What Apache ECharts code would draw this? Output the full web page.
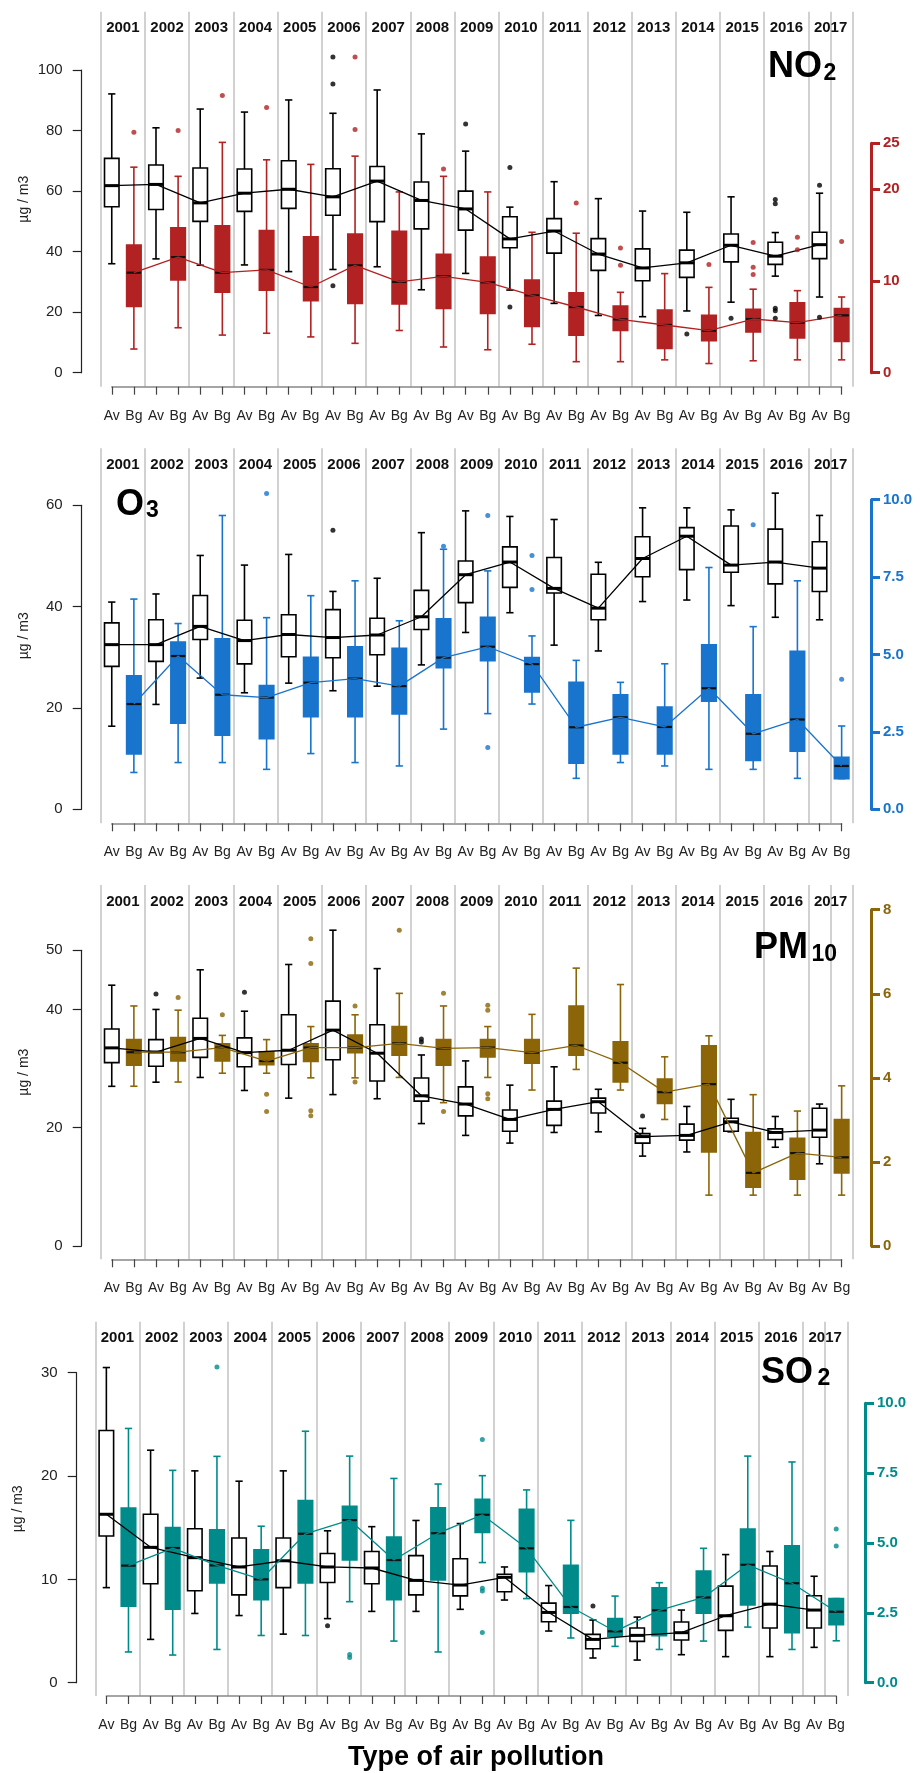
<!DOCTYPE html>
<html lang="en">
<head>
<meta charset="UTF-8">
<title>Air pollution boxplots</title>
<script src="https://cdn.jsdelivr.net/npm/echarts@6.0.0/dist/echarts.min.js"></script>
<style>
  * { margin: 0; padding: 0; }
  html, body { width: 921px; height: 1773px; background: #fff; overflow: hidden; }
  #chart { width: 921px; height: 1773px; }
</style>
</head>
<body>
<div id="chart"></div>
<script>
// ---- data: each row is [lower whisker, Q1, median, Q3, upper whisker], one per year ----
const years = ['2001','2002','2003','2004','2005','2006','2007','2008','2009',
               '2010','2011','2012','2013','2014','2015','2016','2017'];
const typeLabels = ['Av', 'Bg'];

const no2Av = [
  [36.0,54.8,61.8,70.8,92.1],[37.6,53.9,62.2,68.6,80.9],[35.5,50.0,56.1,67.6,87.1],
  [35.6,53.3,59.3,67.3,86.1],[33.4,54.3,60.6,70.0,90.1],[34.1,52.0,58.1,67.4,85.7],
  [35.0,49.9,63.3,68.1,93.4],[27.4,47.5,56.9,63.0,78.9],[32.8,47.1,54.1,60.0,73.2],
  [27.3,41.3,44.2,51.5,54.7],[22.9,39.5,46.8,50.9,63.1],[18.9,33.8,39.2,44.3,57.5],
  [18.5,30.4,34.6,40.9,53.4],[20.4,31.5,36.3,40.5,53.0],[23.3,36.6,42.1,45.8,58.1],
  [31.9,35.8,38.5,43.1,46.3],[25.0,37.7,42.3,46.4,59.3]
];
const no2AvOut = [[5,104.3],[5,95.4],[5,28.7],[8,82.2],[9,67.8],[9,21.7],[13,12.8],[14,18.0],
  [15,57.2],[15,55.8],[15,21.3],[15,20.5],[15,18.0],[16,61.9],[16,18.3]];
const no2Bg = [
  [2.58,7.23,10.9,13.9,22.4],[4.9,10.1,12.6,15.8,21.4],[4.1,8.76,10.9,16.0,25.1],
  [4.3,9.0,11.2,15.5,23.2],[3.9,7.85,9.34,14.8,22.7],[3.2,7.56,11.7,15.1,23.6],
  [4.6,7.5,9.9,15.4,19.7],[2.8,7.0,10.5,12.9,21.4],[2.5,6.47,9.85,12.6,19.7],
  [3.1,5.05,8.43,10.1,15.3],[1.2,4.1,7.16,8.7,15.2],[1.2,4.61,5.81,7.27,8.76],
  [1.4,2.65,5.2,6.83,10.8],[1.0,3.49,4.58,6.25,9.3],[1.3,4.43,5.85,6.9,9.1],
  [1.4,3.8,5.45,7.63,8.94],[1.4,3.4,6.25,7.0,8.25]
];
const no2BgOut = [[0,26.2],[1,26.4],[2,30.2],[3,28.9],[5,34.4],[5,26.5],[7,22.2],[10,18.5],
  [11,13.6],[11,11.7],[13,11.8],[14,14.2],[14,11.5],[14,10.7],[15,14.75],[15,13.4],[16,14.3]];

const o3Av = [
  [16.4,28.2,32.5,36.8,40.9],[20.7,29.2,32.5,37.4,42.5],[25.9,33.5,36.1,42.2,50.1],
  [23.0,28.7,33.3,37.3,48.2],[24.9,30.1,34.5,38.4,50.3],[23.4,29.9,33.9,39.4,43.0],
  [24.3,30.5,34.4,37.7,45.6],[28.5,35.5,38.0,43.2,54.6],[34.9,40.8,46.3,49.0,58.9],
  [38.8,43.8,48.8,51.8,57.8],[32.4,42.7,43.6,49.7,57.2],[31.25,37.4,39.7,46.4,48.75],
  [41.0,45.9,49.5,53.8,59.5],[41.3,47.3,53.9,55.6,59.5],[40.2,46.8,48.2,55.9,59.1],
  [37.9,44.5,48.8,55.3,62.4],[37.4,43.0,47.6,52.8,58.0]
];
const o3AvOut = [[5,55.1]];
const o3Bg = [
  [1.19,1.79,3.40,4.31,6.79],[1.51,2.78,4.95,5.4,6.0],[1.51,2.39,3.70,5.51,9.49],
  [1.29,2.28,3.61,4.0,6.19],[1.8,2.99,4.09,4.91,6.9],[1.51,2.99,4.22,5.25,7.38],
  [1.4,3.08,3.98,5.2,6.09],[2.59,4.57,4.9,6.15,8.40],[3.09,4.8,5.25,6.2,7.70],
  [3.4,3.79,4.69,4.9,5.6],[1.0,1.49,2.65,4.1,4.81],[1.51,1.79,2.97,3.7,4.1],
  [1.4,1.79,2.66,3.3,4.70],[1.29,3.49,3.91,5.31,7.81],[1.29,1.58,2.44,3.7,5.9],
  [1.0,1.88,2.9,5.1,7.38],[0.99,0.99,1.4,1.68,2.69]
];
const o3BgOut = [[3,10.2],[7,8.5],[8,9.49],[8,2.0],[9,8.2],[9,7.1],[14,9.19],[16,4.2]];

const pm10Av = [
  [27.0,31.0,33.5,36.7,44.1],[27.7,30.4,32.8,34.9,40.0],[28.5,31.9,35.1,38.5,46.7],
  [26.3,30.3,32.7,35.2,39.7],[25.0,30.7,33.1,39.1,47.6],[25.6,31.5,36.5,41.4,53.4],
  [24.9,27.9,32.6,37.4,46.9],[20.7,24.5,25.4,28.4,32.3],[18.7,22.0,24.0,26.9,31.3],
  [17.4,19.4,21.4,23.0,27.2],[19.2,20.4,23.1,24.5,30.3],[19.3,22.5,24.4,25.0,26.5],
  [15.2,17.4,18.5,19.0,19.9],[15.9,17.9,18.7,20.6,23.6],[19.3,19.4,21.0,21.6,24.8],
  [16.7,18.0,19.2,19.8,21.9],[13.9,18.4,19.6,23.3,24.0]
];
const pm10AvOut = [[1,42.6],[3,42.9],[7,35.0],[7,34.5],[12,22.0]];
const pm10Bg = [
  [3.80,4.30,4.61,4.91,5.71],[3.90,4.40,4.61,4.96,5.61],[4.11,4.40,4.72,4.81,5.01],
  [4.11,4.31,4.40,4.62,4.91],[4.0,4.39,4.72,4.81,5.22],[4.0,4.60,4.72,5.02,5.50],
  [4.01,4.54,4.82,5.22,6.01],[3.41,4.30,4.70,4.91,5.71],[4.01,4.50,4.72,4.91,5.22],
  [3.71,4.35,4.60,4.91,5.51],[4.20,4.54,4.77,5.71,6.61],[3.71,3.90,4.36,4.86,6.22],
  [3.01,3.39,3.66,3.97,4.50],[1.21,2.24,3.85,4.76,5.0],[1.21,1.40,1.74,2.70,3.60],
  [1.21,1.59,2.21,2.56,3.21],[1.21,1.74,2.11,3.01,3.81]
];
const pm10BgOut = [[1,5.91],[2,5.50],[3,3.61],[3,3.20],[4,7.31],[4,6.72],[4,3.22],[4,3.10],
  [5,5.71],[5,3.90],[6,7.51],[7,6.01],[7,3.20],[8,5.73],[8,5.61],[8,3.62],[8,3.50]];

const so2Av = [
  [9.2,14.2,16.3,24.4,30.5],[4.19,9.58,13.1,16.3,22.5],[6.7,8.9,12.1,14.9,20.5],
  [6.5,8.5,11.2,14.0,19.5],[4.7,9.2,11.8,14.0,20.5],[6.2,9.7,11.2,12.5,14.7],
  [6.9,9.58,11.1,12.7,15.1],[6.9,8.5,9.9,12.3,15.7],[7.1,8.4,9.45,12.0,15.4],
  [8.0,8.8,10.2,10.5,11.2],[5.0,5.9,6.8,7.7,9.4],[2.39,3.29,4.19,4.68,6.06],
  [2.19,4.0,4.58,5.29,6.35],[2.71,4.13,4.84,5.87,7.03],[2.52,5.06,6.48,9.35,12.4],
  [2.52,5.29,7.6,11.3,12.7],[3.42,5.29,7.03,8.42,10.3]
];
const so2AvOut = [[5,5.5],[11,7.42]];
const so2Bg = [
  [1.10,2.74,4.19,6.25,9.1],[0.99,2.63,4.82,5.55,7.6],[1.19,3.57,4.2,5.47,8.1],
  [1.69,2.97,3.70,4.76,5.6],[1.69,3.57,5.33,6.52,9.0],[2.9,4.39,5.82,6.31,8.11],
  [1.49,2.97,4.39,5.21,7.31],[1.10,3.68,5.35,6.26,7.11],[4.30,5.38,6.01,6.56,7.41],
  [3.01,3.97,4.81,6.21,6.90],[1.60,2.49,2.71,4.20,5.81],[1.30,1.66,1.84,2.30,3.10],
  [1.19,1.68,2.59,3.40,3.58],[1.49,2.49,3.05,4.0,4.81],[1.99,2.78,4.22,5.50,8.11],
  [1.19,1.79,3.56,4.90,7.90],[1.50,2.08,2.54,3.01,3.01]
];
const so2BgOut = [[2,11.3],[5,1.01],[5,0.9],[8,8.70],[8,3.38],[8,3.28],[8,1.80],[16,5.50],[16,4.89]];

// ---- panels (layout in page pixels) ----
const FONT = "'Liberation Sans', Arial, Helvetica, sans-serif";
const panels = [
  { title: [['NO', 36], ['2', 23]], av: no2Av, bg: no2Bg, avOut: no2AvOut, bgOut: no2BgOut,
    color: '#B22222', leftMax: 100, leftStep: 20, rightMax: 25, rightStep: 10, rightDigits: 0,
    lay: { top: 11.7, bottom: 386.7, left: 100.7, right: 852.7, zeroY: 372.7, leftTopY: 70, rightTopY: 143.3,
           leftAxisX: 81.7, rightAxisX: 871, titlePos: [[768, 67.5], [823.5, 73.5]] } },
  { title: [['O', 36], ['3', 23]], av: o3Av, bg: o3Bg, avOut: o3AvOut, bgOut: o3BgOut,
    color: '#1874CD', leftMax: 60, leftStep: 20, rightMax: 10, rightStep: 2.5, rightDigits: 1,
    lay: { top: 448.3, bottom: 823.3, left: 100.7, right: 852.7, zeroY: 809.3, leftTopY: 505.3, rightTopY: 499.7,
           leftAxisX: 81.7, rightAxisX: 871, titlePos: [[116, 505], [146, 511]] } },
  { title: [['PM', 36], ['10', 23]], av: pm10Av, bg: pm10Bg, avOut: pm10AvOut, bgOut: pm10BgOut,
    color: '#8B6508', leftMax: 50, leftStep: 20, rightMax: 8, rightStep: 2, rightDigits: 0,
    lay: { top: 885, bottom: 1259.3, left: 100.7, right: 852.7, zeroY: 1246, leftTopY: 950.3, rightTopY: 909.7,
           leftAxisX: 81.7, rightAxisX: 871, titlePos: [[754, 948.3], [811.5, 954.5]] } },
  { title: [['SO', 36], ['2', 23]], av: so2Av, bg: so2Bg, avOut: so2AvOut, bgOut: so2BgOut,
    color: '#008B8B', leftMax: 30, leftStep: 10, rightMax: 10, rightStep: 2.5, rightDigits: 1,
    lay: { top: 1321.7, bottom: 1696, left: 95.3, right: 847.3, zeroY: 1682.7, leftTopY: 1372.7, rightTopY: 1403.3,
           leftAxisX: 76.7, rightAxisX: 865, titlePos: [[761, 1373], [817.5, 1379]] } }
];

const xLabels = years.flatMap(() => typeLabels);

// boxplot shape drawn through the axes
function boxRender(fill, stroke, medColor, medWidth) {
  return function (params, api) {
    const x = api.value(0);
    const pt = k => api.coord([x, api.value(k)]);
    const lo = pt(1), q1 = pt(2), md = pt(3), q3 = pt(4), hi = pt(5);
    const cx = lo[0], w = 14.5, c = w / 4;
    const st = { stroke: stroke, lineWidth: 1.6 };
    return {
      type: 'group',
      children: [
        { type: 'line', shape: { x1: cx, y1: hi[1], x2: cx, y2: q3[1] }, style: st },
        { type: 'line', shape: { x1: cx, y1: q1[1], x2: cx, y2: lo[1] }, style: st },
        { type: 'line', shape: { x1: cx - c, y1: hi[1], x2: cx + c, y2: hi[1] }, style: st },
        { type: 'line', shape: { x1: cx - c, y1: lo[1], x2: cx + c, y2: lo[1] }, style: st },
        { type: 'rect', shape: { x: cx - w / 2, y: q3[1], width: w, height: q1[1] - q3[1] },
          style: { fill: fill, stroke: stroke, lineWidth: 1.6 } },
        { type: 'line', shape: { x1: cx - w / 2, y1: md[1], x2: cx + w / 2, y2: md[1] },
          style: { stroke: medColor, lineWidth: medWidth } }
      ]
    };
  };
}

const option = { backgroundColor: '#fff', animation: false, textStyle: { fontFamily: FONT },
                 grid: [], xAxis: [], yAxis: [], series: [], graphic: [] };

panels.forEach(p => {
  const L = p.lay;
  const pxL = (L.zeroY - L.leftTopY) / p.leftMax;
  const pxR = (L.zeroY - L.rightTopY) / p.rightMax;
  const band = (L.right - L.left) / 34;

  // data grid
  const g = option.grid.length;
  option.grid.push({ left: L.left, top: L.top, width: L.right - L.left, height: L.bottom - L.top, outerBoundsMode: 'none' });
  const xi = option.xAxis.length;
  option.xAxis.push({
    type: 'category', gridIndex: g, data: xLabels, boundaryGap: true,
    axisLine: { show: false, onZero: false },
    axisTick: { show: true, alignWithLabel: true, length: 8, lineStyle: { color: '#444', width: 1.2 } },
    axisLabel: { interval: 0, margin: 22, fontSize: 14, color: '#222', fontFamily: FONT },
    splitLine: { show: true, interval: 1, lineStyle: { color: '#c2c2c2', width: 1.5 } }
  });
  option.xAxis.push({
    type: 'category', gridIndex: g, position: 'top', data: years,
    axisLine: { show: false, onZero: false }, axisTick: { show: false }, splitLine: { show: false },
    axisLabel: { inside: true, interval: 0, margin: 9, fontSize: 15, fontWeight: 'bold', color: '#111', fontFamily: FONT }
  });
  const yi = option.yAxis.length;
  option.yAxis.push({
    type: 'value', gridIndex: g, min: (L.zeroY - L.bottom) / pxL, max: (L.zeroY - L.top) / pxL,
    axisLine: { show: false, onZero: false }, axisTick: { show: false }, axisLabel: { show: false }, splitLine: { show: false },
    name: 'µg / m3', nameLocation: 'middle', nameRotate: 90, nameGap: 70,
    nameTextStyle: { fontSize: 14, color: '#222', fontFamily: FONT }
  });
  option.yAxis.push({
    type: 'value', gridIndex: g, position: 'right', min: (L.zeroY - L.bottom) / pxR, max: (L.zeroY - L.top) / pxR,
    axisLine: { show: false, onZero: false }, axisTick: { show: false }, axisLabel: { show: false }, splitLine: { show: false }
  });

  // left axis (0 .. leftMax)
  option.grid.push({ left: L.leftAxisX, top: L.leftTopY, width: 20, height: L.zeroY - L.leftTopY, outerBoundsMode: 'none' });
  option.xAxis.push({ type: 'value', gridIndex: g + 1, show: false });
  option.yAxis.push({
    type: 'value', gridIndex: g + 1, min: 0, max: p.leftMax, interval: p.leftStep,
    axisLine: { show: true, onZero: false, lineStyle: { color: '#222', width: 1.2 } },
    axisTick: { show: true, length: 9, lineStyle: { color: '#222', width: 1.2 } },
    axisLabel: { margin: 19, fontSize: 15, color: '#222', fontFamily: FONT },
    splitLine: { show: false }
  });

  // right axis (0 .. rightMax), coloured
  option.grid.push({ left: L.rightAxisX - 20, top: L.rightTopY, width: 20, height: L.zeroY - L.rightTopY, outerBoundsMode: 'none' });
  option.xAxis.push({ type: 'value', gridIndex: g + 2, show: false });
  option.yAxis.push({
    type: 'value', gridIndex: g + 2, position: 'right', min: 0, max: p.rightMax, interval: p.rightStep,
    axisLine: { show: true, onZero: false, lineStyle: { color: p.color, width: 3 } },
    axisTick: { show: true, length: 9, lineStyle: { color: p.color, width: 3 } },
    axisLabel: { margin: 12, fontSize: 15, fontWeight: 'bold', color: p.color, fontFamily: FONT,
                 formatter: v => v.toFixed(p.rightDigits) },
    splitLine: { show: false }
  });

  // bottom axis line from first to last tick
  option.grid.push({ left: L.left + band / 2, width: L.right - L.left - band, top: L.bottom - 10, height: 10, outerBoundsMode: 'none' });
  option.xAxis.push({
    type: 'value', gridIndex: g + 3, min: 0, max: 1,
    axisLine: { show: true, onZero: false, lineStyle: { color: '#888', width: 1.5 } },
    axisTick: { show: false }, axisLabel: { show: false }, splitLine: { show: false }
  });
  option.yAxis.push({ type: 'value', gridIndex: g + 3, show: false });

  // series
  option.series.push({
    type: 'custom', xAxisIndex: xi, yAxisIndex: yi, z: 2,
    renderItem: boxRender('#fff', '#000', '#000', 3),
    encode: { x: 0, y: [1, 2, 3, 4, 5] },
    data: p.av.map((r, i) => [2 * i].concat(r))
  });
  option.series.push({
    type: 'custom', xAxisIndex: xi, yAxisIndex: yi + 1, z: 2,
    renderItem: boxRender(p.color, p.color, '#111', 2.2),
    encode: { x: 0, y: [1, 2, 3, 4, 5] },
    data: p.bg.map((r, i) => [2 * i + 1].concat(r))
  });
  option.series.push({
    type: 'line', xAxisIndex: xi, yAxisIndex: yi, z: 3, symbol: 'none', silent: true,
    lineStyle: { color: '#000', width: 1.3 },
    data: p.av.map((r, i) => [2 * i, r[2]])
  });
  option.series.push({
    type: 'line', xAxisIndex: xi, yAxisIndex: yi + 1, z: 3, symbol: 'none', silent: true,
    lineStyle: { color: p.color, width: 1.3 },
    data: p.bg.map((r, i) => [2 * i + 1, r[2]])
  });
  option.series.push({
    type: 'scatter', xAxisIndex: xi, yAxisIndex: yi, z: 4, symbolSize: 5,
    itemStyle: { color: '#000' },
    data: p.avOut.map(([i, v]) => [2 * i, v])
  });
  option.series.push({
    type: 'scatter', xAxisIndex: xi, yAxisIndex: yi + 1, z: 4, symbolSize: 5,
    itemStyle: { color: p.color },
    data: p.bgOut.map(([i, v]) => [2 * i + 1, v])
  });

  // panel title with subscript
  p.title.forEach(([t, size], k) => {
    option.graphic.push({
      type: 'text', x: L.titlePos[k][0], y: L.titlePos[k][1], z: 10,
      style: { text: t, fontSize: size, fontWeight: 'bold', fontFamily: FONT, fill: '#000',
               align: 'left', verticalAlign: 'middle' }
    });
  });
});

option.graphic.push({
  type: 'text', x: 476, y: 1758, z: 10,
  style: { text: 'Type of air pollution', fontSize: 27, fontWeight: 'bold', fontFamily: FONT, fill: '#000',
           align: 'center', verticalAlign: 'middle' }
});

const chart = echarts.init(document.getElementById('chart'));
chart.setOption(option);
</script>
</body>
</html>
